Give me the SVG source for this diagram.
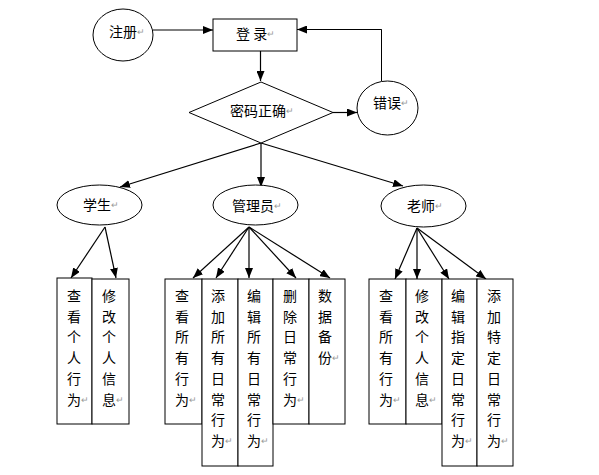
<svg xmlns="http://www.w3.org/2000/svg" width="599" height="475" viewBox="0 0 599 475">
<defs>
<marker id="ah" markerUnits="userSpaceOnUse" markerWidth="10" markerHeight="8" refX="10" refY="4" orient="auto">
<path d="M0,0 L10,4 L0,8 z" fill="#000"/>
</marker>
<style>
.s{fill:#fff;stroke:#000;stroke-width:1}
.c{fill:none;stroke:#000;stroke-width:1.2;marker-end:url(#ah)}
.p{fill:none;stroke:#000;stroke-width:1}
text{font-family:"Noto Sans CJK SC","Noto Sans CJK JP",sans-serif;font-size:14px;fill:#000;dominant-baseline:central}
.r{fill:#999;font-size:9px}
</style>
</defs>
<rect width="599" height="475" fill="#fff"/>
<g id="connectors">
<path class="c" d="M153,30 L213,30"/>
<path class="p" d="M381.5,81 L381.5,29.5 L297,29.5"/>
<path class="c" d="M381.5,29.5 L297,29.5"/>
<path class="c" d="M260.5,51 L260.5,81"/>
<path class="c" d="M333,112.5 L357,112.5"/>
<path class="c" d="M261,143 L120,187"/>
<path class="c" d="M261,143 L261,187"/>
<path class="c" d="M261,143 L403,186"/>
<path class="c" d="M105,227 L71,278"/>
<path class="c" d="M105,227 L116,278"/>
<path class="c" d="M249,227 L193,278"/>
<path class="c" d="M249,227 L216,278"/>
<path class="c" d="M249,227 L249,278"/>
<path class="c" d="M249,227 L296,278"/>
<path class="c" d="M249,227 L330,278"/>
<path class="c" d="M417,228 L395,279"/>
<path class="c" d="M417,228 L417,279"/>
<path class="c" d="M417,228 L449,279"/>
<path class="c" d="M417,228 L486,279"/>
</g>
<g id="zhuce"><ellipse class="s" cx="123" cy="35" rx="30" ry="26"/><text x="109" y="31">注册<tspan class="r">↵</tspan></text></g>
<g id="denglu"><rect class="s" x="213" y="19" width="84" height="32"/><text x="236" y="33">登 录<tspan class="r">↵</tspan></text></g>
<g id="mima"><path class="s" d="M261,82 L333,112.5 L261,143 L189,112.5 z"/><text x="230" y="110">密码正确<tspan class="r">↵</tspan></text></g>
<g id="cuowu"><ellipse class="s" cx="387.5" cy="108" rx="30.5" ry="27"/><text x="373" y="102">错误<tspan class="r">↵</tspan></text></g>
<g id="xuesheng"><ellipse class="s" cx="99.5" cy="205" rx="42.5" ry="20"/><text x="83" y="204">学生<tspan class="r">↵</tspan></text></g>
<g id="guanliyuan"><ellipse class="s" cx="255.5" cy="205" rx="42.5" ry="20"/><text x="232" y="205">管理员<tspan class="r">↵</tspan></text></g>
<g id="laoshi"><ellipse class="s" cx="423.5" cy="206" rx="42.5" ry="21"/><text x="407" y="205">老师<tspan class="r">↵</tspan></text></g>

<g id="s1"><rect class="s" x="57" y="278" width="35" height="146"/><text><tspan x="67" y="295">查</tspan><tspan x="67" dy="20.7">看</tspan><tspan x="67" dy="20.7">个</tspan><tspan x="67" dy="20.7">人</tspan><tspan x="67" dy="20.7">行</tspan><tspan x="67" dy="20.7">为</tspan><tspan class="r">↵</tspan></text></g>
<g id="s2"><rect class="s" x="92" y="279" width="37" height="145"/><text><tspan x="102" y="295">修</tspan><tspan x="102" dy="20.7">改</tspan><tspan x="102" dy="20.7">个</tspan><tspan x="102" dy="20.7">人</tspan><tspan x="102" dy="20.7">信</tspan><tspan x="102" dy="20.7">息</tspan><tspan class="r">↵</tspan></text></g>

<g id="a1"><rect class="s" x="165" y="279" width="37" height="145"/><text><tspan x="175" y="295">查</tspan><tspan x="175" dy="20.7">看</tspan><tspan x="175" dy="20.7">所</tspan><tspan x="175" dy="20.7">有</tspan><tspan x="175" dy="20.7">行</tspan><tspan x="175" dy="20.7">为</tspan><tspan class="r">↵</tspan></text></g>
<g id="a2"><rect class="s" x="202" y="279" width="36" height="187"/><text><tspan x="211" y="295">添</tspan><tspan x="211" dy="20.7">加</tspan><tspan x="211" dy="20.7">所</tspan><tspan x="211" dy="20.7">有</tspan><tspan x="211" dy="20.7">日</tspan><tspan x="211" dy="20.7">常</tspan><tspan x="211" dy="20.7">行</tspan><tspan x="211" dy="20.7">为</tspan><tspan class="r">↵</tspan></text></g>
<g id="a3"><rect class="s" x="238" y="279" width="35" height="187"/><text><tspan x="247" y="295">编</tspan><tspan x="247" dy="20.7">辑</tspan><tspan x="247" dy="20.7">所</tspan><tspan x="247" dy="20.7">有</tspan><tspan x="247" dy="20.7">日</tspan><tspan x="247" dy="20.7">常</tspan><tspan x="247" dy="20.7">行</tspan><tspan x="247" dy="20.7">为</tspan><tspan class="r">↵</tspan></text></g>
<g id="a4"><rect class="s" x="273" y="279" width="36" height="145"/><text><tspan x="283" y="295">删</tspan><tspan x="283" dy="20.7">除</tspan><tspan x="283" dy="20.7">日</tspan><tspan x="283" dy="20.7">常</tspan><tspan x="283" dy="20.7">行</tspan><tspan x="283" dy="20.7">为</tspan><tspan class="r">↵</tspan></text></g>
<g id="a5"><rect class="s" x="309" y="279" width="36" height="145"/><text><tspan x="318" y="295">数</tspan><tspan x="318" dy="20.7">据</tspan><tspan x="318" dy="20.7">备</tspan><tspan x="318" dy="20.7">份</tspan><tspan class="r">↵</tspan></text></g>

<g id="t1"><rect class="s" x="369" y="279" width="37" height="145"/><text><tspan x="379" y="295">查</tspan><tspan x="379" dy="20.7">看</tspan><tspan x="379" dy="20.7">所</tspan><tspan x="379" dy="20.7">有</tspan><tspan x="379" dy="20.7">行</tspan><tspan x="379" dy="20.7">为</tspan><tspan class="r">↵</tspan></text></g>
<g id="t2"><rect class="s" x="406" y="279" width="36" height="145"/><text><tspan x="415" y="295">修</tspan><tspan x="415" dy="20.7">改</tspan><tspan x="415" dy="20.7">个</tspan><tspan x="415" dy="20.7">人</tspan><tspan x="415" dy="20.7">信</tspan><tspan x="415" dy="20.7">息</tspan><tspan class="r">↵</tspan></text></g>
<g id="t3"><rect class="s" x="442" y="279" width="35" height="187"/><text><tspan x="451" y="295">编</tspan><tspan x="451" dy="20.7">辑</tspan><tspan x="451" dy="20.7">指</tspan><tspan x="451" dy="20.7">定</tspan><tspan x="451" dy="20.7">日</tspan><tspan x="451" dy="20.7">常</tspan><tspan x="451" dy="20.7">行</tspan><tspan x="451" dy="20.7">为</tspan><tspan class="r">↵</tspan></text></g>
<g id="t4"><rect class="s" x="477" y="279" width="36" height="187"/><text><tspan x="487" y="295">添</tspan><tspan x="487" dy="20.7">加</tspan><tspan x="487" dy="20.7">特</tspan><tspan x="487" dy="20.7">定</tspan><tspan x="487" dy="20.7">日</tspan><tspan x="487" dy="20.7">常</tspan><tspan x="487" dy="20.7">行</tspan><tspan x="487" dy="20.7">为</tspan><tspan class="r">↵</tspan></text></g>
</svg>
